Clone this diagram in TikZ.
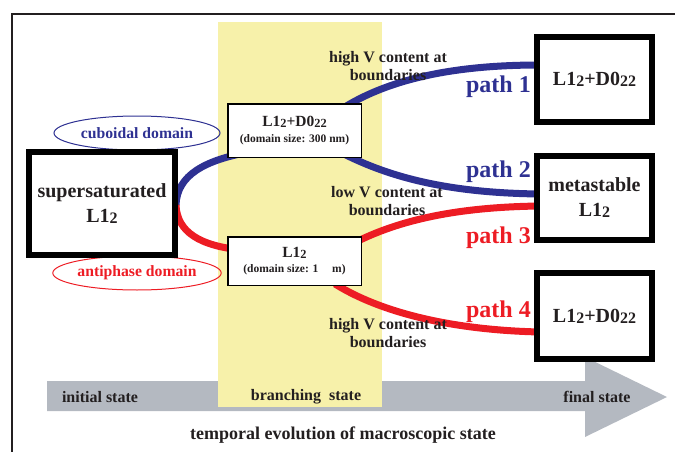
\documentclass[tikz,border=0pt]{standalone}
\usepackage{fontspec}
\setmainfont{Liberation Serif}
\usetikzlibrary{shapes.geometric,calc}
\definecolor{pblue}{HTML}{2E3192}
\definecolor{pred}{HTML}{ED1C24}
\definecolor{pyel}{HTML}{F7F1AA}
\definecolor{pgray}{HTML}{B4B9C1}
\definecolor{ink}{HTML}{231F20}
\newcommand\lsub[1]{\raisebox{-0.12ex}{\scalebox{0.8}{#1}}}
\newcommand\fs[2]{\fontsize{#1}{#2}\selectfont\bfseries}
\tikzset{
  bigbox/.style={draw=black, line width=6pt, fill=white, inner sep=0pt, align=center, text=ink, font=\fs{20}{25}},
  midbox/.style={draw=black, line width=1.5pt, fill=white, inner sep=0pt, align=center, text=ink},
  lbl/.style={align=center, text=ink, font=\fs{16}{18.5}, inner sep=0pt},
  pathlbl/.style={anchor=east, font=\fs{24}{26}, inner sep=0pt},
  dom/.style={ellipse, line width=1pt, minimum width=166pt, minimum height=34pt, inner sep=0pt, font=\fs{15.7}{17}},
  band/.style={line width=7pt},
  stlbl/.style={text=ink, font=\fs{16}{18}, inner sep=0pt}
}
\begin{document}
\begin{tikzpicture}[x=1pt,y=-1pt]
\useasboundingbox (0,0) rectangle (675,452);
% frame
\draw[ink, line width=2pt] (12,452) -- (12,14) -- (676,14);
% time arrow
\fill[pgray] (47,381) -- (585,381) -- (585,357) -- (667,397) -- (585,437) -- (585,411) -- (47,411) -- cycle;
% branching band
\fill[pyel] (218,22) rectangle (382,407);
% ellipses
\node[dom, draw=pblue, text=pblue] (cub) at (137,133) {cuboidal domain};
\node[dom, draw=pred, text=pred] (anti) at (137,273) {antiphase domain};
% coordinates for curve ends
\coordinate (s0) at (176,205);
\coordinate (b1) at (250,152);
\coordinate (r1) at (242,250);
\coordinate (p1s) at (340,110);
\coordinate (p2s) at (340,152);
\coordinate (p3s) at (352,244);
\coordinate (p4s) at (335,284);
\coordinate (e1) at (540,65);
\coordinate (e2) at (540,194);
\coordinate (e3) at (540,206);
\coordinate (e4) at (540,332);
% curves
\draw[band, pblue] (s0) .. controls (177,175) and (205,160) .. (b1);
\draw[band, pred] (s0) .. controls (177,232) and (200,246) .. (r1);
\draw[band, pblue] (p1s) .. controls (395,74) and (470,65) .. (e1);
\draw[band, pblue] (p2s) .. controls (390,178) and (450,193) .. (e2);
\draw[band, pred] (p3s) .. controls (400,219) and (460,207) .. (e3);
\draw[band, pred] (p4s) .. controls (380,312) and (450,330) .. (e4);
% boxes
\node[bigbox, minimum width=146pt, minimum height=103pt] (sup) at (102,203.5) {supersaturated\\L1\lsub{2}};
\node[midbox, minimum width=133.5pt, minimum height=53.5pt] (m1) at (294.5,130.5)
  {{\fs{15.5}{16}L1\lsub{2}+D0\lsub{22}}\\[4pt]{\fs{11.5}{13}(domain size: 300 nm)}};
\node[midbox, minimum width=133.5pt, minimum height=48.5pt] (m2) at (294.5,261)
  {{\fs{15.5}{16}L1\lsub{2}}\\[3pt]{\fs{11.5}{13}(domain size: 1\hspace{1.2em}m)}};
\node[bigbox, minimum width=115pt, minimum height=85pt] (f1) at (594.5,79.5) {L1\lsub{2}+D0\lsub{22}};
\node[bigbox, minimum width=115pt, minimum height=84pt] (f2) at (594.5,198) {metastable\\L1\lsub{2}};
\node[bigbox, minimum width=115pt, minimum height=86pt] (f3) at (594.5,316) {L1\lsub{2}+D0\lsub{22}};
% labels
\node[lbl] (h1) at (388,66) {high V content at\\boundaries};
\node[lbl] (lo) at (387,201) {low V content at\\boundaries};
\node[lbl] (h2) at (388,333) {high V content at\\boundaries};
\node[pathlbl, text=pblue] (t1) at (531,87) {path 1};
\node[pathlbl, text=pblue] (t2) at (531,172) {path 2};
\node[pathlbl, text=pred] (t3) at (531,238) {path 3};
\node[pathlbl, text=pred] (t4) at (531,312) {path 4};
% state labels
\node[stlbl] (ini) at (100,397) {initial state};
\node[stlbl] (bra) at (306,397) {branching\ \ state};
\node[stlbl] (fin) at (597,397) {final state};
\node[text=ink, font=\fs{18}{20}, inner sep=0pt] (tev) at (343,435) {temporal evolution of macroscopic state};
\end{tikzpicture}
\end{document}
